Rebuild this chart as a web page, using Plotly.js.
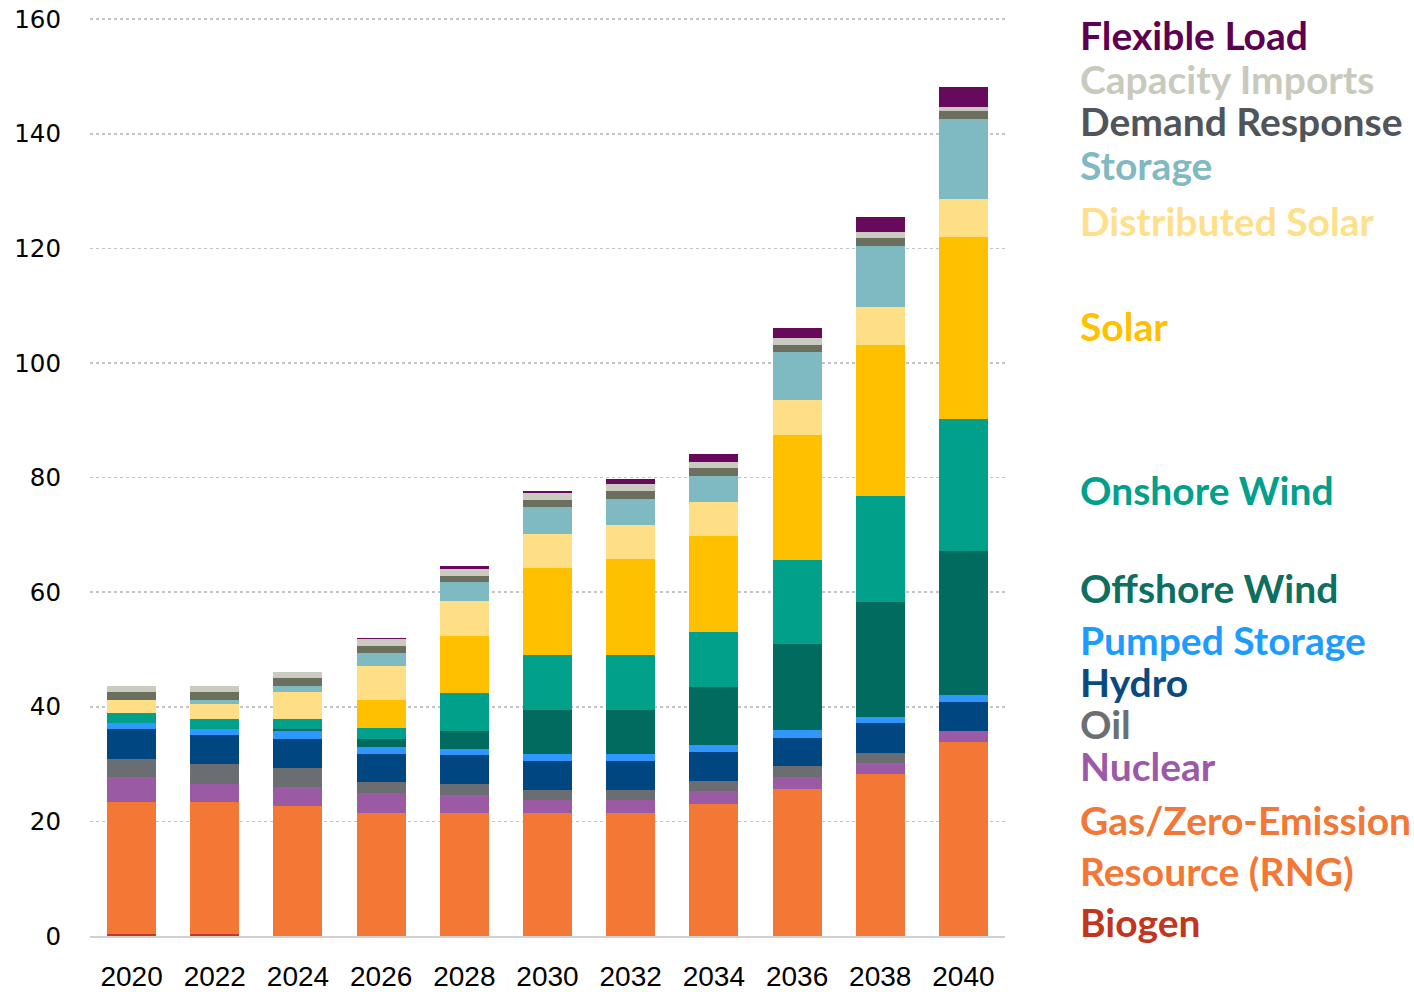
<!DOCTYPE html>
<html>
<head>
<meta charset="utf-8">
<script src="https://cdn.plot.ly/plotly-3.0.1.min.js"></script>
<style>
  body { margin: 0; background: #ffffff; }
  #chart { width: 1414px; height: 992px; }
</style>
</head>
<body>
<div id="chart"></div>
<script>
// capacity by resource (stacked bottom to top)
var years = ["2020", "2022", "2024", "2026", "2028", "2030", "2032", "2034", "2036", "2038", "2040"];

var biogen      = [0.3, 0.3, 0, 0, 0, 0, 0, 0, 0, 0, 0];
var gas         = [23.0, 23.0, 22.7, 21.5, 21.5, 21.5, 21.5, 23.1, 25.6, 28.2, 33.8];
var nuclear     = [4.4, 3.3, 3.3, 3.4, 3.1, 2.3, 2.2, 2.2, 2.2, 2.0, 2.0];
var oil         = [3.2, 3.4, 3.4, 2.0, 2.0, 1.7, 1.8, 1.8, 1.8, 1.8, 0];
var hydro       = [5.2, 5.0, 4.9, 4.9, 5.0, 5.1, 5.1, 5.0, 5.0, 5.1, 5.1];
var pumped      = [1.1, 1.1, 1.4, 1.1, 1.1, 1.2, 1.2, 1.3, 1.4, 1.2, 1.2];
var offshore    = [0, 0, 0.4, 1.4, 3.1, 7.6, 7.6, 10.1, 14.9, 20.0, 25.0];
var onshore     = [1.8, 1.7, 1.7, 2.0, 6.6, 9.6, 9.6, 9.6, 14.7, 18.4, 23.2];
var solar       = [0, 0, 0, 4.9, 10.0, 15.3, 16.8, 16.7, 21.8, 26.5, 31.7];
var distSolar   = [2.2, 2.7, 4.8, 6.0, 6.1, 5.8, 6.0, 6.0, 6.2, 6.5, 6.6];
var storage     = [0, 0.7, 1.1, 2.2, 3.3, 4.7, 4.5, 4.5, 8.4, 10.7, 13.9];
var demandResp  = [1.4, 1.4, 1.3, 1.2, 1.1, 1.3, 1.4, 1.4, 1.2, 1.4, 1.4];
var capImports  = [1.1, 1.1, 1.1, 1.2, 1.1, 1.2, 1.1, 1.0, 1.1, 1.0, 0.8];
var flexLoad    = [0, 0, 0, 0.2, 0.6, 0.4, 0.9, 1.5, 1.8, 2.6, 3.5];

var seriesNames = ["Biogen", "Gas/Zero-Emission Resource (RNG)", "Nuclear", "Oil", "Hydro",
                   "Pumped Storage", "Offshore Wind", "Onshore Wind", "Solar", "Distributed Solar",
                   "Storage", "Demand Response", "Capacity Imports", "Flexible Load"];
var seriesValues = [biogen, gas, nuclear, oil, hydro, pumped, offshore, onshore, solar,
                    distSolar, storage, demandResp, capImports, flexLoad];
var barColors = ["#C0392B", "#F37735", "#9A5BA4", "#6A6E73", "#004680", "#2E98FF",
                 "#006B5E", "#00A08B", "#FFC000", "#FFDF85", "#7FB9C1", "#6B6F5E",
                 "#CACBC0", "#680A5C"];

// right-hand labels, top to bottom
var labelTexts = ["Flexible Load", "Capacity Imports", "Demand Response", "Storage",
                  "Distributed Solar", "Solar", "Onshore Wind", "Offshore Wind",
                  "Pumped Storage", "Hydro", "Oil", "Nuclear", "Gas/Zero-Emission",
                  "Resource (RNG)", "Biogen"];
var labelColors = ["#5E0052", "#C8CABE", "#4F555A", "#7FB9C1", "#FFE08A", "#FFC000",
                   "#00A08B", "#0E6E5F", "#1E9BFF", "#0B4A80", "#6B6F73", "#9B59A8",
                   "#F37735", "#F37735", "#C0361E"];
var labelY = [36, 80, 122, 166, 222, 327, 490, 588, 640, 682, 724, 766, 820, 871, 922];

var data = [];
for (var i = 0; i < seriesNames.length; i++) {
    data.push({
        type: "bar",
        name: seriesNames[i],
        x: years,
        y: seriesValues[i],
        marker: {color: barColors[i], line: {width: 0}},
        hoverinfo: "x+y+name"
    });
}

var annotations = [];
for (var j = 0; j < labelTexts.length; j++) {
    annotations.push({
        xref: "paper", yref: "paper",
        x: (1078 - 90) / 915, y: 1 - (labelY[j] - 19) / 917,
        xanchor: "left", yanchor: "middle",
        text: "<b>" + labelTexts[j] + "</b>",
        showarrow: false,
        font: {family: "Lato, 'Open Sans', sans-serif", size: 39, color: labelColors[j]}
    });
}

var layout = {
    width: 1414,
    height: 992,
    barmode: "stack",
    bargap: 0.41,
    showlegend: false,
    paper_bgcolor: "#ffffff",
    plot_bgcolor: "#ffffff",
    margin: {l: 90, r: 409, t: 18, b: 56},
    xaxis: {
        type: "category",
        showgrid: false,
        showline: true,
        linecolor: "#D0D0D0",
        linewidth: 2,
        ticks: "",
        ticklabelstandoff: 14,
        tickfont: {family: "'Liberation Sans Narrow', 'Arial Narrow', sans-serif", size: 28, color: "#000000"}
    },
    yaxis: {
        range: [0, 160.2],
        tickvals: [0, 20, 40, 60, 80, 100, 120, 140, 160],
        showgrid: true,
        gridcolor: "#C4C4C4",
        gridwidth: 1.5,
        griddash: "dot",
        zeroline: false,
        showline: false,
        ticks: "",
        ticklabelstandoff: 28,
        tickfont: {family: "'DejaVu Sans', Verdana, sans-serif", size: 24.5, color: "#000000"}
    },
    annotations: annotations
};

Plotly.newPlot("chart", data, layout, {displayModeBar: false, staticPlot: true});
</script>
</body>
</html>
